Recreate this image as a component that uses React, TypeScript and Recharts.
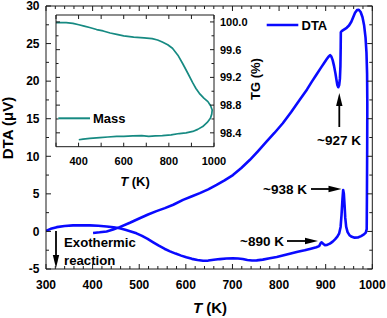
import { LineChart, Line, XAxis, YAxis } from 'recharts'

// DTA loop, in the order the instrument traced it (heating along the bottom, then back along the top)
const dtaT = [
  300, 310, 323, 340, 358, 376, 394, 412, 430, 445, 458, 470, 482, 494, 506, 518, 530, 542, 554, 566,
  578, 590, 601, 613, 625, 637, 648, 660, 673, 687, 701, 712, 722, 732, 742, 752, 765, 780, 795, 810,
  825, 840, 855, 868, 880, 886, 889, 891, 894, 898, 903, 909, 915, 920, 925, 929, 932, 934, 936, 937.5,
  939, 940.5, 942, 944, 947, 951, 956, 962, 969, 976, 982, 986, 988,
  988.5, 989, 989.3, 988.8, 987.5, 985.5, 982.5, 979, 975, 971, 967, 963, 959, 955, 950, 945, 940, 935,
  932.5, 932.2, 931.6, 930.5, 929, 927, 925, 923, 921, 918, 915, 912, 909.5, 906, 902, 897, 890, 880,
  870, 860, 844, 826, 808, 790, 773, 755, 737, 719, 701, 683, 666, 648, 630, 612, 594, 573, 555, 537,
  519, 501, 480, 458, 444, 430, 415, 401,
]
const dtaV = [
  0.05, 0.35, 0.57, 0.72, 0.8, 0.83, 0.81, 0.75, 0.66, 0.55, 0.42, 0.22, 0.0, -0.25, -0.6, -1.0, -1.45, -1.9, -2.3, -2.65,
  -2.95, -3.22, -3.45, -3.65, -3.8, -3.9, -3.88, -3.78, -3.68, -3.6, -3.57, -3.6, -3.66, -3.8, -3.87, -3.85, -3.75, -3.58, -3.4, -3.18,
  -2.95, -2.7, -2.5, -2.3, -2.1, -1.95, -1.6, -1.45, -1.6, -1.82, -1.8, -1.62, -1.35, -1.05, -0.7, -0.25, 0.6, 2.2, 4.3, 5.5,
  5.0, 3.5, 1.8, 0.6, -0.1, -0.5, -0.72, -0.83, -0.8, -0.62, -0.4, -0.15, 0.3,
  5, 11, 17, 21, 23.8, 25.8, 27.4, 28.5, 29.2, 29.5, 29.45, 29.1, 28.5, 27.9, 27.4, 27.1, 26.9, 26.7,
  26.5, 24.5, 22, 20.3, 19.5, 19.2, 19.5, 20.2, 21.0, 22.0, 22.8, 23.3, 23.45, 23.25, 22.9, 22.45, 21.8, 20.85,
  19.9, 18.9, 17.5, 15.9, 14.4, 13.1, 11.95, 10.7, 9.5, 8.45, 7.5, 6.8, 6.2, 5.6, 5.1, 4.65, 4.2, 3.55, 3.1, 2.7,
  2.25, 1.75, 1.15, 0.57, 0.25, 0.0, -0.12, -0.2,
]

// TG (mass) loop for the inset
const massT = [
  300, 345, 375, 401, 425, 449, 480, 509, 540, 569, 600, 644, 690, 726, 750, 771, 795, 816, 840, 861,
  884, 906, 920, 935, 955, 973, 985, 992, 990, 984, 970, 950, 928, 906, 876, 846, 810, 771, 740, 711,
  680, 640, 600, 569, 530, 494, 450, 420, 401,
]
const massV = [
  99.99, 99.99, 99.98, 99.96, 99.94, 99.92, 99.89, 99.87, 99.84, 99.82, 99.8, 99.78, 99.77, 99.76, 99.74, 99.71, 99.67, 99.62, 99.52, 99.4,
  99.26, 99.12, 99.04, 98.97, 98.9, 98.85, 98.79, 98.73, 98.67, 98.61, 98.55, 98.49, 98.45, 98.42, 98.4, 98.39, 98.37, 98.36, 98.355, 98.35,
  98.36, 98.355, 98.35, 98.35, 98.34, 98.33, 98.32, 98.31, 98.3,
]

const mainXTicks = [
  300, 320, 340, 360, 380, 400, 420, 440, 460, 480, 500, 520, 540, 560, 580, 600, 620, 640, 660, 680,
  700, 720, 740, 760, 780, 800, 820, 840, 860, 880, 900, 920, 940, 960, 980, 1000,
]
const mainYTicks = [-5, -2.5, 0, 2.5, 5, 7.5, 10, 12.5, 15, 17.5, 20, 22.5, 25, 27.5, 30]
const insetXTicks = [300, 400, 500, 600, 700, 800, 900, 1000]
const insetXLabels = [400, 600, 800, 1000]
const insetYTicks = [98.4, 98.6, 98.8, 99.0, 99.2, 99.4, 99.6, 99.8, 100.0]
const insetYLabels = [98.4, 98.8, 99.2, 99.6, 100.0]

const dtaData = dtaT.map((t, i) => ({ t, v: dtaV[i] }))
const massData = massT.map((t, i) => ({ t, m: massV[i] }))

const font = "'Liberation Sans', Arial, Helvetica, sans-serif"
const ink = '#1a1a1a'
const blue = '#0a0aff'
const teal = '#168a82'

type Side = 'bottom' | 'top' | 'left' | 'right'

// inward ticks: Recharts only draws outward ones, so the tick renderer draws its own
function makeTick(
  side: Side,
  isMajor: (v: number) => boolean,
  label: (v: number) => string | null,
  lens: [number, number],
  fontSize: number,
  gap: number,
) {
  return (p: any) => {
    const v = Number(p.payload.value)
    const len = isMajor(v) ? lens[0] : lens[1]
    const x = p.x
    const y = p.y
    const txt = label(v)
    let x2 = x
    let y2 = y
    if (side === 'bottom') y2 = y - len
    if (side === 'top') y2 = y + len
    if (side === 'left') x2 = x + len
    if (side === 'right') x2 = x - len
    return (
      <g>
        <line x1={x} y1={y} x2={x2} y2={y2} stroke={ink} strokeWidth={1} />
        {txt != null && side === 'bottom' && (
          <text x={x} y={y + gap} textAnchor="middle" fontFamily={font} fontWeight="bold" fontSize={fontSize} fill="#000">
            {txt}
          </text>
        )}
        {txt != null && side === 'left' && (
          <text x={x - gap} y={y + fontSize * 0.36} textAnchor="end" fontFamily={font} fontWeight="bold" fontSize={fontSize} fill="#000">
            {txt}
          </text>
        )}
        {txt != null && side === 'right' && (
          <text x={x + gap} y={y + fontSize * 0.36} textAnchor="start" fontFamily={font} fontWeight="bold" fontSize={fontSize} fill="#000">
            {txt}
          </text>
        )}
      </g>
    )
  }
}

const near = (a: number, b: number) => Math.abs(a - b) < 1e-6
const mainXMajor = (v: number) => near(v % 100, 0)
const mainYMajor = (v: number) => near(((v % 5) + 5) % 5, 0)
const insetYMajor = (v: number) => insetYLabels.some((l) => near(l, v))
const none = () => null

const axisLine = { stroke: ink, strokeWidth: 1 }

function Arrow({ x1, y1, x2, y2 }: { x1: number; y1: number; x2: number; y2: number }) {
  const dx = x2 - x1
  const dy = y2 - y1
  const d = Math.hypot(dx, dy)
  const ux = dx / d
  const uy = dy / d
  const hl = 13
  const hw = 3.2
  const bx = x2 - ux * hl
  const by = y2 - uy * hl
  return (
    <g>
      <line x1={x1} y1={y1} x2={bx + ux * 2} y2={by + uy * 2} stroke="#000" strokeWidth={1.8} />
      <polygon points={`${x2},${y2} ${bx - uy * hw},${by + ux * hw} ${bx + uy * hw},${by - ux * hw}`} fill="#000" />
    </g>
  )
}

const txt = { fontFamily: font, fontWeight: 'bold' as const, fill: '#000' }

export default function App() {
  return (
    <div style={{ position: 'absolute', left: 0, top: 0, width: 387, height: 318, background: '#fff' }}>
      <div style={{ position: 'absolute', left: 0, top: 0 }}>
        <LineChart width={387} height={318} data={dtaData} margin={{ top: 0, right: 0, bottom: 0, left: 0 }}>
          <XAxis
            xAxisId="b"
            dataKey="t"
            type="number"
            domain={[300, 1000]}
            allowDataOverflow
            ticks={mainXTicks}
            interval={0}
            height={49}
            tickSize={0}
            tickMargin={0}
            tickLine={false}
            axisLine={axisLine}
            tick={makeTick('bottom', mainXMajor, (v) => (mainXMajor(v) ? String(v) : null), [5, 3], 12, 20)}
          />
          <XAxis
            xAxisId="t"
            orientation="top"
            dataKey="t"
            type="number"
            domain={[300, 1000]}
            allowDataOverflow
            ticks={mainXTicks}
            interval={0}
            height={6}
            tickSize={0}
            tickMargin={0}
            tickLine={false}
            axisLine={axisLine}
            tick={makeTick('top', mainXMajor, none, [5, 3], 12, 0)}
          />
          <YAxis
            yAxisId="l"
            type="number"
            domain={[-5, 30]}
            allowDataOverflow
            ticks={mainYTicks}
            interval={0}
            width={46}
            tickSize={0}
            tickMargin={0}
            tickLine={false}
            axisLine={axisLine}
            tick={makeTick('left', mainYMajor, (v) => (mainYMajor(v) ? String(v) : null), [5, 3], 12, 6.5)}
          />
          <YAxis
            yAxisId="r"
            orientation="right"
            type="number"
            domain={[-5, 30]}
            allowDataOverflow
            ticks={mainYTicks}
            interval={0}
            width={14.7}
            tickSize={0}
            tickMargin={0}
            tickLine={false}
            axisLine={axisLine}
            tick={makeTick('right', mainYMajor, none, [5, 3], 12, 0)}
          />
          <Line
            xAxisId="b"
            yAxisId="l"
            type="linear"
            dataKey="v"
            stroke={blue}
            strokeWidth={2.6}
            strokeLinejoin="round"
            dot={false}
            isAnimationActive={false}
          />
        </LineChart>
      </div>

      <div style={{ position: 'absolute', left: 0, top: 0 }}>
        <LineChart width={387} height={318} data={massData} margin={{ top: 0, right: 0, bottom: 0, left: 0 }}>
          <XAxis
            xAxisId="b"
            dataKey="t"
            type="number"
            domain={[300, 1000]}
            allowDataOverflow
            ticks={insetXTicks}
            interval={0}
            height={171.3}
            tickSize={0}
            tickMargin={0}
            tickLine={false}
            axisLine={axisLine}
            tick={makeTick('bottom', () => true, (v) => (insetXLabels.includes(v) ? String(v) : null), [4, 4], 11, 18)}
          />
          <XAxis
            xAxisId="t"
            orientation="top"
            dataKey="t"
            type="number"
            domain={[300, 1000]}
            allowDataOverflow
            ticks={insetXTicks}
            interval={0}
            height={15}
            tickSize={0}
            tickMargin={0}
            tickLine={false}
            axisLine={axisLine}
            tick={makeTick('top', () => true, none, [4, 4], 11, 0)}
          />
          <YAxis
            yAxisId="l"
            type="number"
            domain={[98.2, 100.1]}
            allowDataOverflow
            ticks={insetYTicks}
            interval={0}
            width={56}
            tickSize={0}
            tickMargin={0}
            tickLine={false}
            axisLine={axisLine}
            tick={makeTick('left', insetYMajor, none, [4, 2.5], 11, 0)}
          />
          <YAxis
            yAxisId="r"
            orientation="right"
            type="number"
            domain={[98.2, 100.1]}
            allowDataOverflow
            ticks={insetYTicks}
            interval={0}
            width={173}
            tickSize={0}
            tickMargin={0}
            tickLine={false}
            axisLine={axisLine}
            tick={makeTick('right', insetYMajor, (v) => (insetYMajor(v) ? v.toFixed(1) : null), [4, 2.5], 11, 6)}
          />
          <Line
            xAxisId="b"
            yAxisId="l"
            type="linear"
            dataKey="m"
            stroke={teal}
            strokeWidth={1.7}
            strokeLinejoin="round"
            dot={false}
            isAnimationActive={false}
          />
        </LineChart>
      </div>

      <svg width={387} height={318} style={{ position: 'absolute', left: 0, top: 0, pointerEvents: 'none' }}>
        {/* axis titles */}
        <text x={210} y={313} textAnchor="middle" fontSize={15} {...txt}>
          <tspan fontStyle="italic">T</tspan> (K)
        </text>
        <text x={13} y={128} textAnchor="middle" fontSize={15} transform="rotate(-90 13 128)" {...txt}>
          DTA (μV)
        </text>
        <text x={135} y={185.5} textAnchor="middle" fontSize={13} {...txt}>
          <tspan fontStyle="italic">T</tspan> (K)
        </text>
        <text x={260} y={79} textAnchor="middle" fontSize={13} transform="rotate(-90 260 79)" {...txt}>
          TG (%)
        </text>

        {/* legends */}
        <line x1={266.7} y1={25} x2={298.3} y2={25} stroke={blue} strokeWidth={2.6} />
        <text x={301.5} y={30} fontSize={13} {...txt}>DTA</text>
        <line x1={58.3} y1={118.3} x2={90} y2={118.3} stroke={teal} strokeWidth={2} />
        <text x={93} y={123} fontSize={13} {...txt}>Mass</text>

        {/* annotations */}
        <text x={339} y={145} textAnchor="middle" fontSize={13.5} {...txt}>~927 K</text>
        <Arrow x1={339.3} y1={127} x2={339.3} y2={93} />
        <text x={307} y={193.5} textAnchor="end" fontSize={13.5} {...txt}>~938 K</text>
        <Arrow x1={311} y1={189} x2={341.5} y2={189} />
        <text x={284} y={246} textAnchor="end" fontSize={13.5} {...txt}>~890 K</text>
        <Arrow x1={287} y1={241} x2={318} y2={241} />
        <text x={64} y={247} fontSize={13.2} {...txt}>Exothermic</text>
        <text x={64} y={265} fontSize={13.2} {...txt}>reaction</text>
        <Arrow x1={56} y1={231} x2={56} y2={268} />
      </svg>
    </div>
  )
}
